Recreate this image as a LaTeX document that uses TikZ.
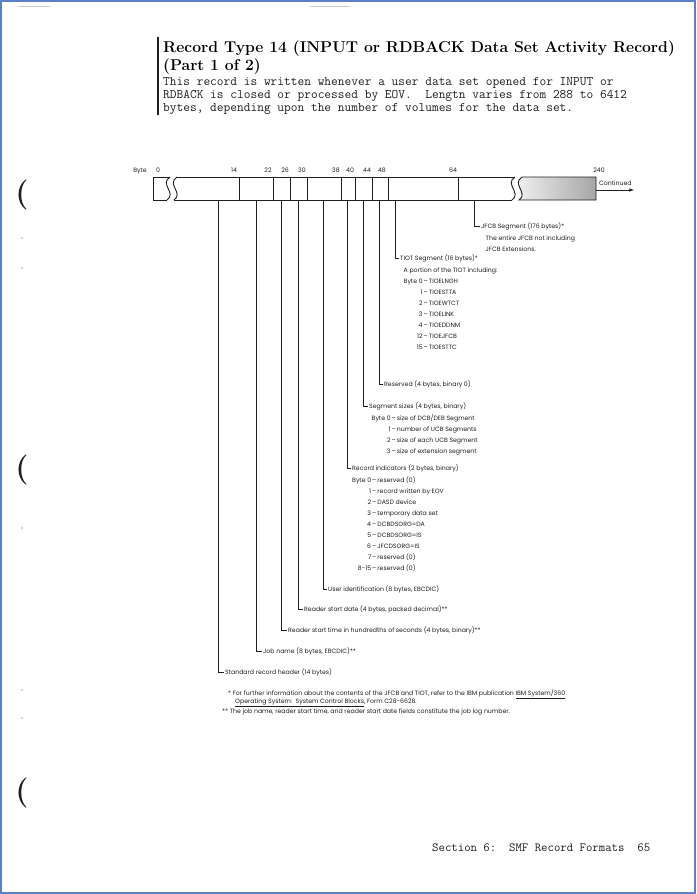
\documentclass[tikz,border=0pt]{standalone}
\usepackage{fontspec}
\usepackage{tikz}
\usetikzlibrary{positioning,calc}
\newfontfamily\ibmsans{Poppins}
\definecolor{pgframe}{HTML}{5B80C8}
\definecolor{ink}{HTML}{1E1E1E}
\newcommand{\fldfont}{\ibmsans\fontsize{6.2}{11.1}\selectfont}
\newcommand{\typefont}{\ttfamily\fontsize{13.05}{13}\selectfont}
\newcommand{\dd}{\,\textendash\,}

\begin{document}
\begin{tikzpicture}[x=1pt,y=-1pt,>=latex,
    cell/.style={draw=ink,line width=0.9pt},
    lead/.style={draw=ink,line width=0.6pt},
    lbl/.style={font=\fldfont,text=ink,inner xsep=1.5pt,inner ysep=0pt,anchor=west},
    lst/.style={font=\fldfont,text=ink,inner sep=0pt,anchor=north west},
    bnum/.style={font=\fldfont,text=ink,inner sep=0pt,anchor=base},
    mono/.style={font=\typefont,text=ink,inner sep=0pt,anchor=base west},
    head/.style={font=\fontsize{15.7}{18}\selectfont\bfseries,inner sep=0pt,anchor=base west},
    paren/.style={font=\fontsize{30}{30}\selectfont\bfseries,text=ink,inner sep=0pt},
    speck/.style={fill=gray!70}]
  \useasboundingbox (0,0) rectangle (696,894);
  \draw[pgframe,line width=1.5pt] (1,1) rectangle (695,893);
  \draw[gray!40,line width=0.8pt] (18,6) -- (50,6) (310,6) -- (350,6);

  % heading and text
  \node[head] (title) at (163,52.5) {Record Type 14 (INPUT or RDBACK Data Set Activity Record)};
  \node[head] (part) at (163,70.5) {(Part 1 of 2)};
  \draw[ink,line width=1.2pt] (158,37) -- (158,115);
  \node[mono] (intro1) at (163,85) {This record is written whenever a user data set opened for INPUT or};
  \node[mono] (intro2) at (163,98) {RDBACK is closed or processed by EOV.\ \ Lengtn varies from 288 to 6412};
  \node[mono] (intro3) at (163,111) {bytes, depending upon the number of volumes for the data set.};

  % byte offsets
  \node[bnum] (byte) at (140,172.5) {Byte};
  \foreach \x/\n in {158/0,234/14,268/22,285/26,302/30,336/38,350/40,367/44,382/48,453/64,599/240}
    \node[bnum] (b-\n) at (\x,172.5) {\n};

  % record box
  \draw[cell] (170,177) -- (153,177) -- (153,200) -- (167,200);
  \draw[cell] (170,177) .. controls (159,184) and (177,193) .. (167,200);
  \draw[cell] (177,177) .. controls (166,184) and (184,193) .. (174,200);
  \draw[cell] (177,177) -- (515,177);
  \draw[cell] (174,200) -- (512,200);
  \draw[cell] (515,177) .. controls (504,184) and (522,193) .. (512,200);
  \shade[left color=gray!8,right color=gray!70] (522,177) -- (596,177) -- (596,200) -- (519,200) .. controls (529,193) and (511,184) .. (522,177) -- cycle;
  \draw[cell] (522,177) -- (596,177) -- (596,200) -- (519,200) .. controls (529,193) and (511,184) .. (522,177);
  \foreach \x in {239,273,290,307,341,355,372,388,458}
    \draw[cell] (\x,177) -- (\x,200);
  \coordinate (box-e) at (596,190);
  \coordinate (cont-e) at (634,190);
  \node[bnum,anchor=base west] (cont) at (599,185.5) {Continued};
  \draw[lead,->] (box-e) -- (cont-e);

  % field feet
  \foreach \n/\x in {std/218,job/256,time/281,date/298,user/323,ind/347,size/363,resv/379,tiot/395,jfcb/474}
    \coordinate (f-\n) at (\x,200);

  % field labels
  \node[lbl] (jfcb) at (479.5,226) {JFCB Segment (176 bytes)*};
  \node[lst,below right=2.3pt and 6pt of jfcb.south west] (jfcb-l) {\begin{tabular}{@{}l@{}}
      The entire JFCB not including\\ JFCB Extensions.
    \end{tabular}};
  \node[lbl] (tiot) at (398.5,258) {TIOT Segment (16 bytes)*};
  \node[lst,below right=2.3pt and 5pt of tiot.south west] (tiot-l) {\begin{tabular}{@{}r@{\dd}l@{}}
      \multicolumn{2}{@{}l@{}}{A portion of the TIOT including:}\\
      Byte 0 & TIOELNGH\\ 1 & TIOESTTA\\ 2 & TIOEWTCT\\ 3 & TIOELINK\\
      4 & TIOEDDNM\\ 12 & TIOEJFCB\\ 15 & TIOESTTC
    \end{tabular}};
  \node[lbl] (resv) at (382.5,384) {Reserved (4 bytes, binary 0)};
  \node[lbl] (size) at (367.5,406) {Segment sizes (4 bytes, binary)};
  \node[lst,below right=2.3pt and 4pt of size.south west] (size-l) {\begin{tabular}{@{}r@{\dd}l@{}}
      Byte 0 & size of DCB/DEB Segment\\ 1 & number of UCB Segments\\
      2 & size of each UCB Segment\\ 3 & size of extension segment
    \end{tabular}};
  \node[lbl] (ind) at (350.5,468) {Record indicators (2 bytes, binary)};
  \node[lst,below right=2.3pt and 1.5pt of ind.south west] (ind-l) {\begin{tabular}{@{}r@{\dd}l@{}}
      Byte 0 & reserved (0)\\ 1 & record written by EOV\\ 2 & DASD device\\
      3 & temporary data set\\ 4 & DCBDSORG=DA\\ 5 & DCBDSORG=IS\\
      6 & JFCDSORG=IS\\ 7 & reserved (0)\\ 8-15 & reserved (0)
    \end{tabular}};
  \node[lbl] (user) at (326.5,589) {User identification (8 bytes, EBCDIC)};
  \node[lbl] (date) at (302.5,609) {Reader start date (4 bytes, packed decimal)**};
  \node[lbl] (time) at (286.5,630) {Reader start time in hundredths of seconds (4 bytes, binary)**};
  \node[lbl] (job) at (261.5,651) {Job name (8 bytes, EBCDIC)**};
  \node[lbl] (std) at (223.5,672) {Standard record header (14 bytes)};
  \foreach \n in {jfcb,tiot,resv,size,ind,user,date,time,job,std}
    \draw[lead] (f-\n) |- (\n.west);

  % footnotes
  \node[lbl] (note1) at (226.5,694) {* For further information about the contents of the JFCB and TIOT, refer to the IBM publication \underline{IBM System/360}};
  \node[lbl] (note2) at (233.5,703) {\underline{Operating System:\ \ System Control Blocks}, Form C28-6628.};
  \node[lbl] (note3) at (220.5,712) {** The job name, reader start time, and reader start date fields constitute the job log number.};

  % page margin
  \node[paren] (hole1) at (22,195) {(};
  \node[paren] (hole2) at (22,470) {(};
  \node[paren] (hole3) at (22,793) {(};
  \foreach \y in {238,268,528,690,718}
    \fill[speck] (22,\y) circle (0.9);
  \node[mono,font=\ttfamily\fontsize{12.45}{13}\selectfont] (foot) at (432,851) {Section 6:\ \ SMF Record Formats\ \ 65};
\end{tikzpicture}
\end{document}
